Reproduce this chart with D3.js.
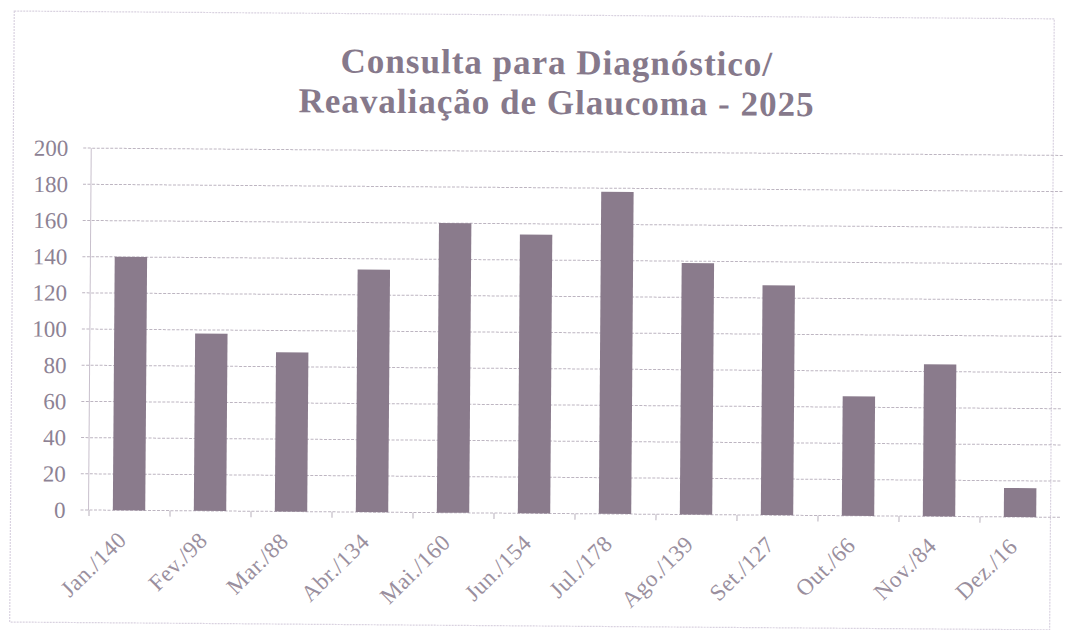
<!DOCTYPE html>
<html>
<head>
<meta charset="utf-8">
<script src="https://cdn.jsdelivr.net/npm/d3@7"></script>
<style>
  body { margin: 0; background: #fff; }
  text { font-family: "Liberation Serif", "Times New Roman", serif; }
</style>
</head>
<body>
<svg id="chart" width="1081" height="630"></svg>
<script>
const months = ['Jan.', 'Fev.', 'Mar.', 'Abr.', 'Mai.', 'Jun.', 'Jul.', 'Ago.', 'Set.', 'Out.', 'Nov.', 'Dez.'];
const values = [140, 98, 88, 134, 160, 154, 178, 139, 127, 66, 84, 16];
const yTicks = [0, 20, 40, 60, 80, 100, 120, 140, 160, 180, 200];
const titleLines = ['Consulta para Diagnóstico/', 'Reavaliação de Glaucoma - 2025'];

const labels = months.map((m, i) => m + '/' + values[i]);

let svg = d3.select('#chart');
let width = +svg.attr('width');
let height = +svg.attr('height');

// the scan is a little tilted
let g = svg.append('g')
  .attr('transform', 'rotate(0.43,' + width / 2 + ',' + height / 2 + ')');

// outer frame
g.append('rect')
  .attr('x', 12).attr('y', 15)
  .attr('width', 1040).attr('height', 611)
  .attr('fill', 'none')
  .attr('stroke', '#d9d2e0')
  .attr('stroke-width', 1.2)
  .attr('stroke-dasharray', '2,1');

let x = d3.scaleBand()
  .domain(labels)
  .range([90, 1062])
  .paddingInner(0.6)
  .paddingOuter(0.3);

let y = d3.scaleLinear()
  .domain([0, 200])
  .range([513.4, 151.5]);

// gridlines
g.append('g')
  .selectAll('line')
  .data(yTicks)
  .join('line')
  .attr('x1', 82).attr('x2', 1062)
  .attr('y1', d => y(d)).attr('y2', d => y(d))
  .attr('stroke', '#bdb5c1')
  .attr('stroke-width', 1)
  .attr('stroke-dasharray', '3,1.5');

// y axis line
g.append('line')
  .attr('x1', 90).attr('x2', 90)
  .attr('y1', y(200)).attr('y2', y(0))
  .attr('stroke', '#c8c0cc');

// y tick labels
g.append('g')
  .selectAll('text')
  .data(yTicks)
  .join('text')
  .attr('x', 67)
  .attr('y', d => y(d) + 8)
  .attr('text-anchor', 'end')
  .attr('font-size', 23)
  .attr('fill', '#8d8294')
  .text(d => d);

// x axis ticks at band boundaries
let step = x.step();
g.append('g')
  .selectAll('line')
  .data(labels)
  .join('line')
  .attr('x1', d => x(d) - x.paddingInner() * step / 2 + 0.5)
  .attr('x2', d => x(d) - x.paddingInner() * step / 2 + 0.5)
  .attr('y1', y(0)).attr('y2', y(0) + 6)
  .attr('stroke', '#b8b0bc');

// bars
g.append('g')
  .selectAll('rect')
  .data(values)
  .join('rect')
  .attr('x', (d, i) => x(labels[i]))
  .attr('y', d => y(d))
  .attr('width', x.bandwidth())
  .attr('height', d => y(0) - y(d))
  .attr('fill', '#8a7b8c');

// x labels
g.append('g')
  .selectAll('text')
  .data(labels)
  .join('text')
  .attr('transform', d => 'translate(' + (x(d) + x.bandwidth() / 2 - 1) + ',' + (y(0) + 31) + ') rotate(-45)')
  .attr('text-anchor', 'end')
  .attr('font-size', 23)
  .attr('letter-spacing', 0.5)
  .attr('fill', '#9a8f9e')
  .text(d => d);

// title
g.append('text')
  .attr('x', 555)
  .attr('y', 74)
  .attr('text-anchor', 'middle')
  .attr('font-size', 35)
  .attr('font-weight', 'bold')
  .attr('letter-spacing', 1)
  .attr('fill', '#86798b')
  .selectAll('tspan')
  .data(titleLines)
  .join('tspan')
  .attr('x', 555)
  .attr('dy', (d, i) => i === 0 ? 0 : 40)
  .text(d => d);
</script>
</body>
</html>
